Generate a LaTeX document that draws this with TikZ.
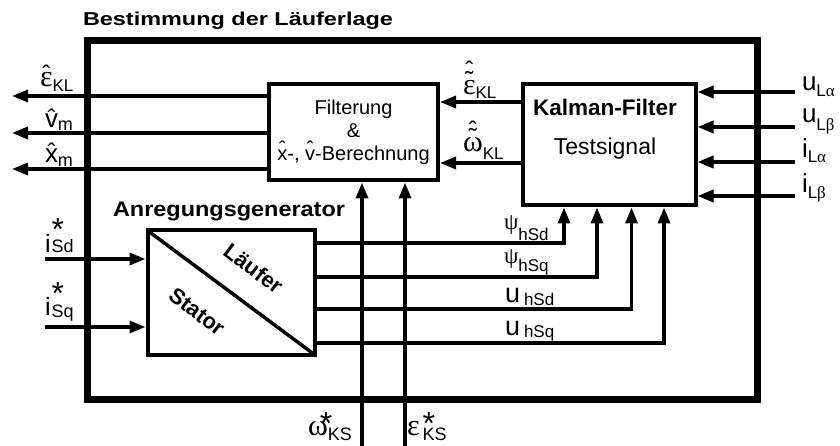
\documentclass[tikz,border=0pt]{standalone}
\usepackage{fontspec}
\setmainfont{Liberation Sans}
\newfontfamily\grk{Liberation Serif}
\usetikzlibrary{arrows.meta,calc}
\newcommand\fs[1]{\fontsize{#1}{#1}\selectfont}
\newcommand\sbx[3]{\raisebox{-#1}{\fs{#2}#3}}
% raise, size, accent, base
\newcommand\accover[4]{\leavevmode\setbox0\hbox{#4}\rlap{\hbox to\wd0{\hss\raisebox{#1}{\normalfont\fs{#2}#3}\hss}}\box0}
\newcommand\hatc{\char"02C6}
\newcommand\tilc{\char"02DC}
\newcommand\stx[1]{\rlap{\raisebox{#1}{\normalfont\fs{32}*}}}
\begin{document}
\begin{tikzpicture}[x=1pt,y=-1pt,
  box/.style={draw,line width=4pt,inner sep=0pt},
  sig/.style={line width=3.5pt,-{Triangle[length=16pt,width=12pt]}},
  lbl/.style={anchor=base west,inner sep=0pt,outer sep=0pt}]
\useasboundingbox (0,0) rectangle (840,446);

% title
\node[lbl] (title) at (83,26) {\resizebox{310pt}{13.5pt}{\bfseries Bestimmung der Läuferlage}};

% boxes
\node[draw,line width=7pt,minimum width=669.5pt,minimum height=358.5pt,inner sep=0pt] (outer) at (422.25,220.25) {};
\node[box,minimum width=169pt,minimum height=96pt,align=center,font=\fontsize{20}{23}\selectfont] (filt) at (353.5,132.5)
  {Filterung\\\&\\\accover{5pt}{20}{\hatc}{x}-, \accover{5pt}{20}{\hatc}{v}-Berechnung};
\node[box,minimum width=173pt,minimum height=121pt] (kal) at (609,145) {};
\node[anchor=base,inner sep=0pt] (kalt) at (605,116) {\bfseries\fs{22.5}Kalman-Filter};
\node[anchor=base,inner sep=0pt] (kals) at (605,155) {\fs{23}Testsignal};
\node[box,minimum width=167.5pt,minimum height=124.5pt] (gen) at (231.25,292.75) {};
\draw[line width=3.5pt] ($(gen.north west)+(2,2)$) -- ($(gen.south east)+(-2,-2)$);
\node[rotate=-37,inner sep=0pt,font=\bfseries\fs{22}] (lauf) at (253.5,268.5) {Läufer};
\node[rotate=-37,inner sep=0pt,font=\bfseries\fs{22}] (stat) at (197,311.5) {Stator};
\node[lbl] (gent) at (113,217) {\resizebox{232pt}{14.5pt}{\bfseries Anregungsgenerator}};

% free ends
\coordinate (o1) at (12,96);
\coordinate (o2) at (12,133);
\coordinate (o3) at (12,169);
\coordinate (k1) at (600,102);
\coordinate (k2) at (600,163);
\coordinate (r1) at (795,92);
\coordinate (r2) at (795,127);
\coordinate (r3) at (795,162);
\coordinate (r4) at (795,196);
\coordinate (s1) at (45,259);
\coordinate (s2) at (45,327);
\coordinate (t1) at (564,243);
\coordinate (t2) at (597,277);
\coordinate (t3) at (631.5,309);
\coordinate (t4) at (664,343);
\coordinate (b1) at (362,446);
\coordinate (b2) at (405,446);

% connectors
\draw[sig] (filt.west |- o1) -- (o1);
\draw[sig] (filt.west |- o2) -- (o2);
\draw[sig] (filt.west |- o3) -- (o3);
\draw[sig] (kal.west |- k1) -- (filt.east |- k1);
\draw[sig] (kal.west |- k2) -- (filt.east |- k2);
\draw[sig] (r1) -- (kal.east |- r1);
\draw[sig] (r2) -- (kal.east |- r2);
\draw[sig] (r3) -- (kal.east |- r3);
\draw[sig] (r4) -- (kal.east |- r4);
\draw[sig] (s1) -- (gen.west |- s1);
\draw[sig] (s2) -- (gen.west |- s2);
\draw[sig] (gen.east |- t1) -| (kal.south -| t1);
\draw[sig] (gen.east |- t2) -| (kal.south -| t2);
\draw[sig] (gen.east |- t3) -| (kal.south -| t3);
\draw[sig] (gen.east |- t4) -| (kal.south -| t4);
\draw[sig] (b1) -- (filt.south -| b1);
\draw[sig] (b2) -- (filt.south -| b2);

% labels
\node[lbl] (lE) at (40,87) {{\grk\fs{30}\accover{4pt}{24}{\hatc}{ε}}\sbx{5pt}{17}{KL}};
\node[lbl] (lV) at (45,128) {{\fs{26}\accover{1pt}{24}{\hatc}{v}}\sbx{3pt}{18}{m}};
\node[lbl] (lX) at (45,163) {{\fs{26}\accover{2pt}{24}{\hatc}{x}}\sbx{4pt}{18}{m}};
\node[lbl] (lEK) at (463,95) {{\grk\fs{30}\accover{16pt}{24}{\hatc}{\accover{6pt}{24}{\tilc}{ε}}}\sbx{4pt}{17}{KL}};
\node[lbl] (lOK) at (463,152) {{\grk\fs{30}\accover{13pt}{24}{\hatc}{\accover{6pt}{24}{\tilc}{ω}}}\sbx{8pt}{17}{KL}};
\node[lbl] (lu1) at (802,91) {{\fs{26}u}\sbx{6pt}{17}{L{\grk α}}};
\node[lbl] (lu2) at (802,123) {{\fs{26}u}\sbx{8pt}{17}{L{\grk β}}};
\node[lbl] (li1) at (802,158) {{\fs{26}i}\sbx{5pt}{17}{L{\grk α}}};
\node[lbl] (li2) at (802,193) {{\fs{26}i}\sbx{6pt}{17}{L{\grk β}}};
\node[lbl] (lsd) at (45,252) {{\fs{25}i}\kern1pt\stx{11pt}\sbx{1pt}{18}{Sd}};
\node[lbl] (lsq) at (45,315) {{\fs{25}i}\kern1pt\stx{11pt}\sbx{2pt}{18}{Sq}};
\node[lbl] (lok) at (308,435) {{\grk\fs{30}ω}\kern-8pt\stx{1pt}\kern8pt\sbx{5pt}{18}{KS}};
\node[lbl] (lek) at (407,435) {{\grk\fs{30}ε}\kern3pt\stx{1pt}\sbx{5pt}{18}{KS}};
\node[lbl] (lp1) at (504,230) {{\grk\fs{23}ψ}\sbx{10pt}{17}{hSd}};
\node[lbl] (lp2) at (504,263) {{\grk\fs{23}ψ}\sbx{8pt}{17}{hSq}};
\node[lbl] (lu3) at (505,302) {{\fs{27}u}\kern4pt\sbx{3pt}{17}{hSd}};
\node[lbl] (lu4) at (505,335) {{\fs{27}u}\kern4pt\sbx{2pt}{17}{hSq}};
\end{tikzpicture}
\end{document}
